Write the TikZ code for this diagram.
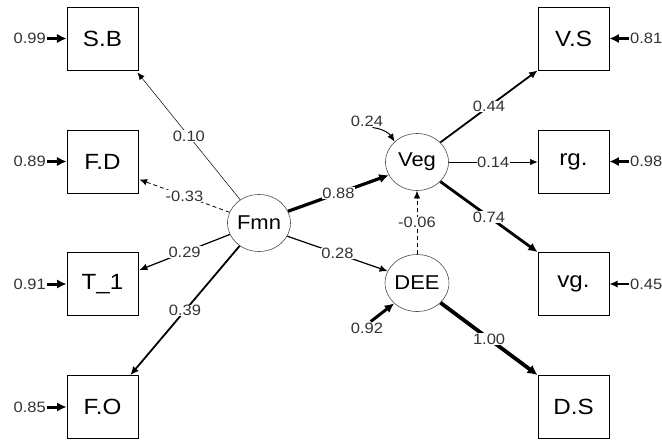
\documentclass[tikz,border=0pt]{standalone}
\usepackage{fontspec}
\setmainfont[FakeStretch=1.1]{Liberation Sans}
\usepackage{tikz}
\usetikzlibrary{arrows.meta,positioning,calc,shapes.geometric}
\usepackage{xcolor}
\definecolor{ftext}{HTML}{333333}
\tikzset{
  obs/.style   = {draw, line width=0.8pt, rectangle, minimum width=71pt,
                  minimum height=63pt, font=\fontsize{22}{26}\selectfont},
  lat/.style   = {draw=black!70, line width=0.6pt, ellipse, inner sep=0pt,
                  minimum width=63pt, minimum height=57pt,
                  font=\fontsize{20}{24}\selectfont},
  coef/.style  = {font=\fontsize{15}{17}\selectfont, text=ftext, inner sep=1pt},
  lab/.style   = {coef, fill=white, inner sep=0.5pt},
  eff/.style   = {-{Latex[length=7pt 0.8,width=5.5pt 1.2]}},
  dashpath/.style = {eff, line width=0.8pt, dash pattern=on 4pt off 3pt},
}

\begin{document}
\begin{tikzpicture}[x=1pt,y=-1pt]
\useasboundingbox (0,0) rectangle (662,440);
% observed variables
\node[obs] (SB) at (102.5,38.5) {S.B};
\node[obs] (FD) at (102.5,161.5) {F.D};
\node[obs] (T1) at (102.5,284) {T\_1};
\node[obs] (FO) at (102.5,407) {F.O};
\node[obs] (VS) at (573.5,38.5) {V.S};
\node[obs] (rg) at (573.5,161.5) {rg.};
\node[obs] (vg) at (573.5,284) {vg.};
\node[obs] (DS) at (573.5,407) {D.S};
% latent variables
\node[lat] (Fmn) at (259,223) {Fmn};
\node[lat] (Veg) at (417,162) {Veg};
\node[lat] (DEE) at (417,283) {DEE};
% error terms
\node[coef,anchor=east] (eSB) at (47,38.5) {0.99};
\node[coef,anchor=east] (eFD) at (47,161.5) {0.89};
\node[coef,anchor=east] (eT1) at (47,284) {0.91};
\node[coef,anchor=east] (eFO) at (47,407) {0.85};
\node[coef,anchor=west] (eVS) at (629,38.5) {0.81};
\node[coef,anchor=west] (erg) at (629,161.5) {0.98};
\node[coef,anchor=west] (evg) at (629,284) {0.45};
\node[coef] (eVeg) at (367,121) {0.24};
\node[coef] (eDEE) at (367,328) {0.92};
\draw[eff,line width=3.4pt] (eSB) -- (SB);
\draw[eff,line width=3.4pt] (eFD) -- (FD);
\draw[eff,line width=3pt] (eT1) -- (T1);
\draw[eff,line width=3pt] (eFO) -- (FO);
\draw[eff,line width=3pt] (eVS) -- (VS);
\draw[eff,line width=3.2pt] (erg) -- (rg);
\draw[eff,line width=1.6pt] (evg) -- (vg);
\draw[eff,line width=1pt] (eVeg.-50) to[bend left=25] (Veg.north west);
\draw[eff,line width=3pt] (eDEE.60) -- (DEE.south west);
% paths from Fmn
\draw[eff,line width=0.5pt] (Fmn) -- node[lab]{0.10} ($(SB.south east)+(-1,2)$);
\draw[dashpath] (Fmn) -- node[lab]{-0.33} ($(FD.east)+(1,18)$);
\draw[eff,line width=1.2pt] (Fmn) -- node[lab]{0.29} ($(T1.east)+(1,-14)$);
\draw[eff,line width=1.8pt] (Fmn) -- node[lab]{0.39} ($(FO.north east)+(-8,0)$);
\draw[eff,line width=3.2pt] (Fmn.22) -- node[lab]{0.88} (Veg.205);
\draw[eff,line width=1.2pt] (Fmn.-25) -- node[lab]{0.28} (DEE.158);
\draw[dashpath] (DEE) -- node[lab]{-0.06} (Veg);
% paths to the right
\draw[eff,line width=1.8pt] (Veg.40) -- node[lab]{0.44} (VS.south west);
\draw[eff,line width=0.5pt] (Veg.east) -- node[lab]{0.14} (Veg.east -| rg.west);
\draw[eff,line width=2.8pt] (Veg.-40) -- node[lab]{0.74} (vg.north west);
\draw[eff,line width=3.8pt] (DEE.-40) -- node[lab]{1.00} (DS.north west);
\end{tikzpicture}
\end{document}
